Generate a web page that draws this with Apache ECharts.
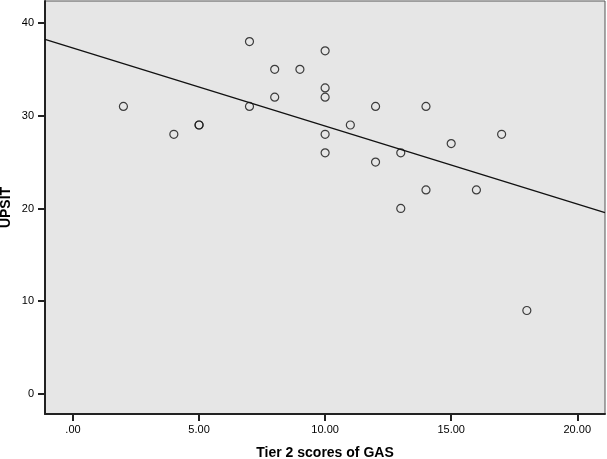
<!DOCTYPE html>
<html>
<head>
<meta charset="utf-8">
<script src="https://cdn.jsdelivr.net/npm/echarts@6/dist/echarts.min.js"></script>
<style>html,body{margin:0;padding:0;background:#fff;}#c{width:607px;height:459px;}</style>
</head>
<body>
<div id="c"></div>
<script>
const gasScores = [2, 4, 5, 5, 7, 7, 8, 8, 9, 10, 10, 10, 10, 10, 11, 12, 12, 13, 13, 14, 14, 15, 16, 17, 18];
const upsitScores = [31, 28, 29, 29, 38, 31, 35, 32, 35, 37, 33, 32, 28, 26, 29, 31, 25, 26, 20, 31, 22, 27, 22, 28, 9];
const xTicks = [0, 5, 10, 15, 20];
const yTicks = [0, 10, 20, 30, 40];
const xRange = [-1.11, 21.1];
const yRange = [-2.16, 42.37];

// least-squares fit line of UPSIT on GAS
const n = gasScores.length;
const mx = gasScores.reduce((a, b) => a + b, 0) / n;
const my = upsitScores.reduce((a, b) => a + b, 0) / n;
let sxy = 0, sxx = 0;
for (let i = 0; i < n; i++) { sxy += (gasScores[i] - mx) * (upsitScores[i] - my); sxx += (gasScores[i] - mx) ** 2; }
const slope = sxy / sxx, intercept = my - slope * mx;
const fitLine = xRange.map(x => [x, intercept + slope * x]);

const chart = echarts.init(document.getElementById('c'), null, {renderer: 'canvas'});
const font = '"Liberation Sans", Arial, sans-serif';
chart.setOption({
  animation: false,
  grid: {left: 45, right: 2, top: 1, bottom: 45, containLabel: false, outerBoundsMode: 'none',
    show: true, backgroundColor: '#e6e6e6', borderColor: '#555', borderWidth: 1},
  xAxis: {
    type: 'value', min: xRange[0], max: xRange[1],
    name: 'Tier 2 scores of GAS', nameLocation: 'middle', nameGap: 32, nameMoveOverlap: false,
    nameTextStyle: {fontFamily: font, fontSize: 14, fontWeight: 'bold', color: '#000'},
    axisLine: {show: true, onZero: false, lineStyle: {color: '#222', width: 2}},
    axisTick: {show: true, length: 7, lineStyle: {color: '#222', width: 2}, customValues: xTicks},
    axisLabel: {customValues: xTicks, margin: 10, fontFamily: font, fontSize: 11, color: '#000',
      formatter: v => v.toFixed(2).replace(/^0\./, '.')},
    splitLine: {show: false}
  },
  yAxis: {
    type: 'value', min: yRange[0], max: yRange[1],
    name: 'UPSIT', nameLocation: 'middle', nameGap: 32, nameRotate: 90, nameMoveOverlap: false,
    nameTextStyle: {fontFamily: font, fontSize: 14, fontWeight: 'bold', color: '#000'},
    axisLine: {show: true, onZero: false, lineStyle: {color: '#222', width: 2}},
    axisTick: {show: true, length: 7, lineStyle: {color: '#222', width: 2}, customValues: yTicks},
    axisLabel: {customValues: yTicks, margin: 11, fontFamily: font, fontSize: 11, color: '#000'},
    splitLine: {show: false}
  },
  series: [
    {type: 'line', data: fitLine, symbol: 'none', lineStyle: {color: '#111', width: 1.3}, silent: true, z: 2},
    {type: 'scatter', data: gasScores.map((x, i) => [x, upsitScores[i]]), symbol: 'circle', symbolSize: 8,
      itemStyle: {color: 'rgba(0,0,0,0)', borderColor: '#111', borderWidth: 1.2}, z: 3}
  ]
});
</script>
</body>
</html>
